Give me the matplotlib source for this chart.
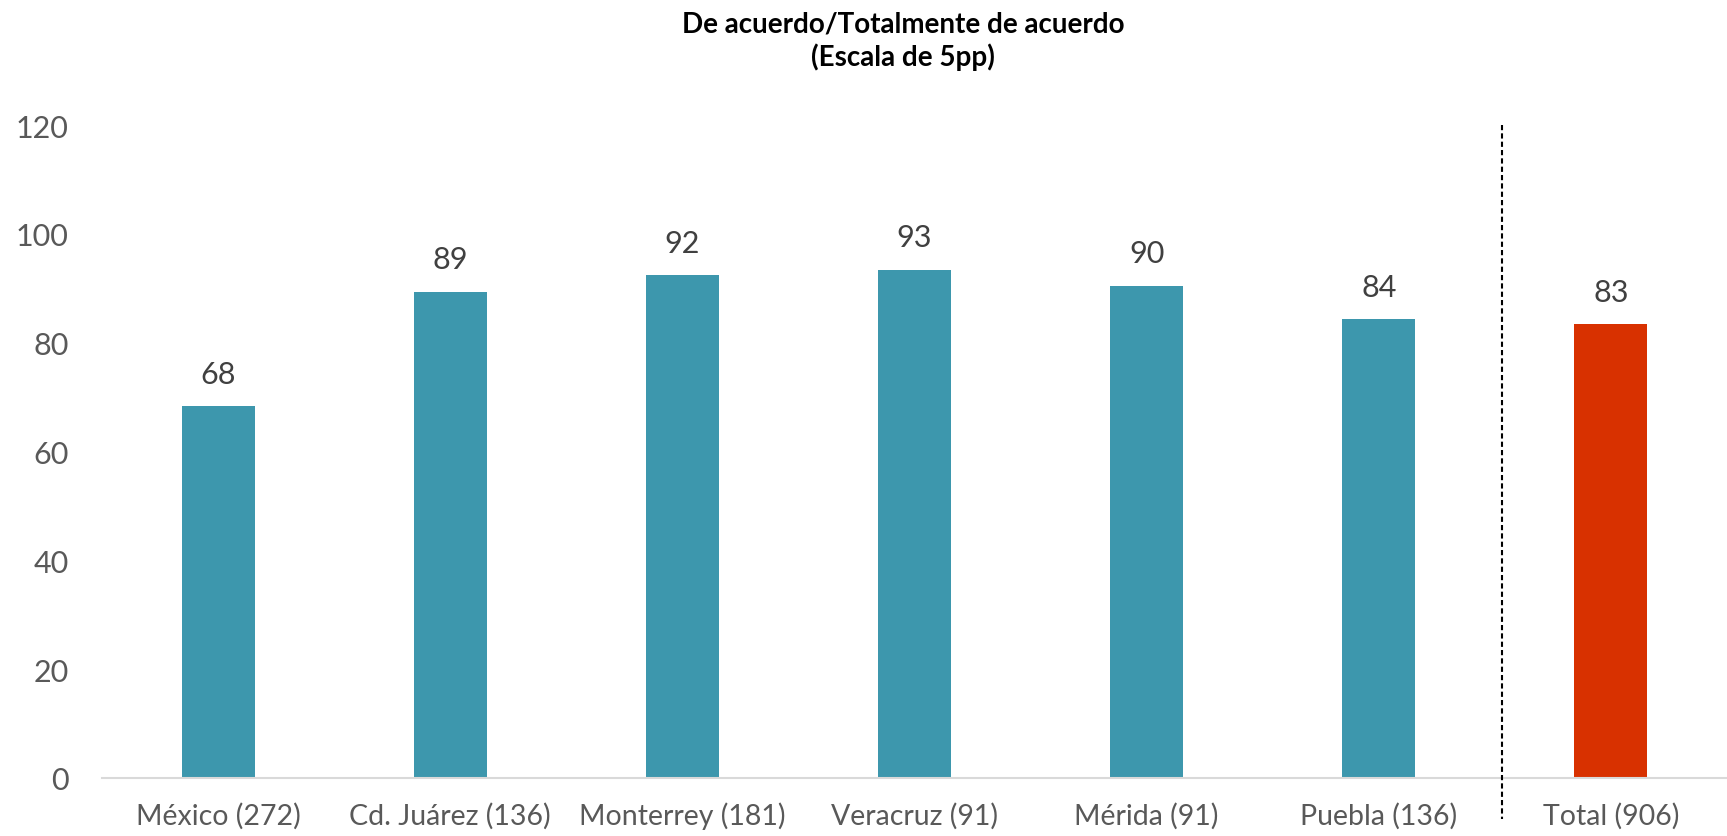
import matplotlib.pyplot as plt

plt.rcParams['font.family'] = ['Lato', 'DejaVu Sans']

# Data
categories = ['México (272)', 'Cd. Juárez (136)', 'Monterrey (181)', 'Veracruz (91)',
              'Mérida (91)', 'Puebla (136)', 'Total (906)']
values = [68.3, 89.4, 92.4, 93.4, 90.4, 84.3, 83.4]
value_labels = ['68', '89', '92', '93', '90', '84', '83']
yticks = [0, 20, 40, 60, 80, 100, 120]
title = 'De acuerdo/Totalmente de acuerdo\n(Escala de 5pp)'

# Colors
TEAL = '#3D97AD'
RED = '#D83100'
TICK_COLOR = '#595959'
LABEL_COLOR = '#404040'

fig = plt.figure(figsize=(17.27, 8.37), dpi=100)
ax = fig.add_axes([102 / 1727, 1 - 779 / 837, 1 - 102 / 1727, (779 - 126) / 837])

x = list(range(len(categories)))
colors = [TEAL] * (len(categories) - 1) + [RED]
bars = ax.bar(x, values, width=0.315, color=colors, linewidth=0, zorder=2)

for xi, v, lab in zip(x, values, value_labels):
    ax.annotate(lab, (xi, v), xytext=(0, 17), textcoords='offset points',
                ha='center', va='baseline', fontsize=22, color=LABEL_COLOR)

ax.set_xlim(-0.5, len(categories) - 0.5)
ax.set_ylim(0, 120)
ax.set_yticks(yticks)
ax.set_xticks(x)
ax.set_xticklabels(categories)
ax.tick_params(axis='y', length=0, pad=24, labelsize=22, labelcolor=TICK_COLOR)
ax.tick_params(axis='x', length=0, pad=17, labelsize=20.5, labelcolor=TICK_COLOR)

for side in ['top', 'right', 'left']:
    ax.spines[side].set_visible(False)
ax.spines['bottom'].set_color('#D9D9D9')
ax.spines['bottom'].set_linewidth(1.5)

# Separator before the total
ax.plot([5.53, 5.53], [120, -7.5], color='black', linestyle=(0, (2.5, 1.5)),
        linewidth=1.5, clip_on=False, zorder=3)

fig.text(0.523, 0.951, title, ha='center', va='center', fontsize=20,
         fontweight='bold', color='black', linespacing=1.25)

fig.savefig('out.png', dpi=100, facecolor='white')
